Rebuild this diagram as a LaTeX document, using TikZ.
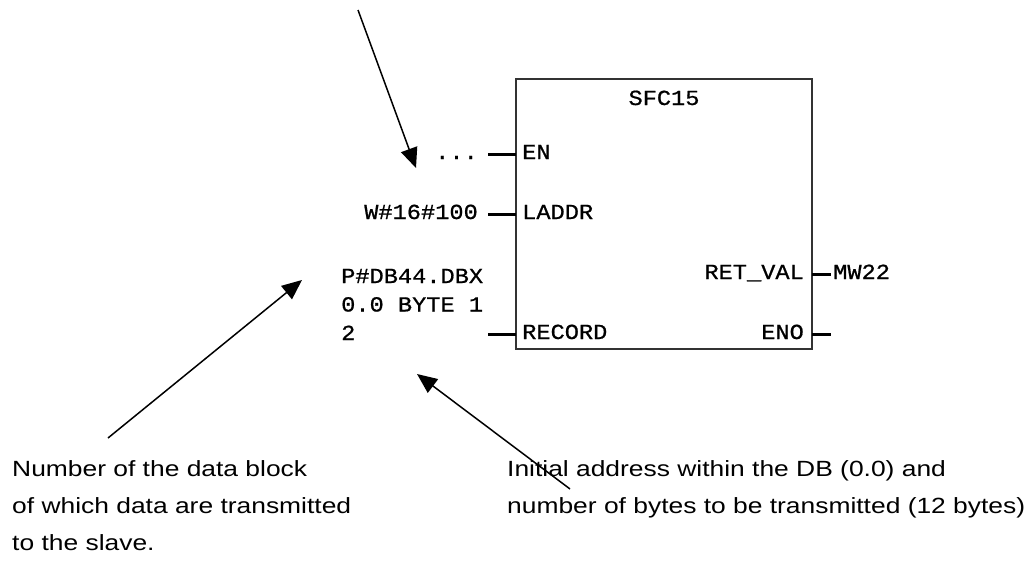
\documentclass[tikz,border=0pt]{standalone}
\usepackage{fontspec}
\setmainfont{Liberation Sans}
\newfontfamily\plcfont[FakeStretch=1.1, FakeBold=0.8]{Liberation Mono}
\newfontfamily\notefont[FakeStretch=1.2]{Liberation Sans}
\usetikzlibrary{arrows.meta, positioning}

\begin{document}
\begin{tikzpicture}[
    x=1pt, y=-1pt,
    >={Triangle[length=20pt, width=17pt]},
    block/.style={rectangle, draw=black!80, line width=2pt, minimum width=296pt, minimum height=270pt, inner sep=0pt},
    pin/.style={line width=3pt},
    plc/.style={font=\plcfont\fontsize{21.5}{28.5}\selectfont, inner sep=0pt, align=left},
    note/.style={font=\notefont\fontsize{22}{37}\selectfont, align=left, inner sep=0pt},
    pointer/.style={->, line width=1.5pt}
]
    \useasboundingbox (0,0) rectangle (1033,562);

    % --- 1. Function block ---
    \node (sfc) [block] at (664,214) {};
    \node (title) [plc, anchor=base] at (664,105) {SFC15};

    % --- 2. Input and output pins ---
    \foreach \pinname/\y in {en/154, laddr/214, record/334} {
        \coordinate (\pinname) at (516,\y);
        \coordinate (\pinname-in) at (488,\y);
        \draw[pin] (\pinname-in) -- (\pinname);
    }
    \foreach \pinname/\y in {retval/274, eno/334} {
        \coordinate (\pinname) at (812,\y);
        \coordinate (\pinname-out) at (831,\y);
        \draw[pin] (\pinname) -- (\pinname-out);
    }

    % pin names inside the block
    \node (enlabel) [plc, anchor=base west] at (522,159) {EN};
    \node (laddrlabel) [plc, anchor=base west] at (522,219) {LADDR};
    \node (recordlabel) [plc, anchor=base west] at (522,339) {RECORD};
    \node (retvallabel) [plc, anchor=base east] at (804,279) {RET\_VAL};
    \node (enolabel) [plc, anchor=base east] at (804,339) {ENO};

    % parameters (base of a multi-line node = its last line)
    \node (dots) [plc, anchor=base east] at (478,159) {...};
    \node (addr) [plc, anchor=base east] at (478,219) {W\#16\#100};
    \node (mw) [plc, anchor=base west] at (833,279) {MW22};
    \node (pointerval) [plc, anchor=base west] at (341,340) {P\#DB44.DBX\\0.0 BYTE 1\\2};

    % --- 3. Explanations ---
    \node (dbnote) [note, anchor=base west] at (12,550)
        {Number of the data block\\of which data are transmitted\\to the slave.};
    \node (lennote) [note, anchor=base west] at (507,513)
        {Initial address within the DB (0.0) and\\number of bytes to be transmitted (12 bytes)};

    % --- 4. Arrows ---
    \coordinate (entail) at (358,10);
    \coordinate (enhead) at (416,168);
    \coordinate (dbtail) at (108,438);
    \coordinate (dbhead) at (302,280);
    \coordinate (lentail) at (570,489);
    \coordinate (lenhead) at (417,374);
    \draw[pointer] (entail) -- (enhead);
    \draw[pointer] (dbtail) -- (dbhead);
    \draw[pointer] (lentail) -- (lenhead);
\end{tikzpicture}
\end{document}
